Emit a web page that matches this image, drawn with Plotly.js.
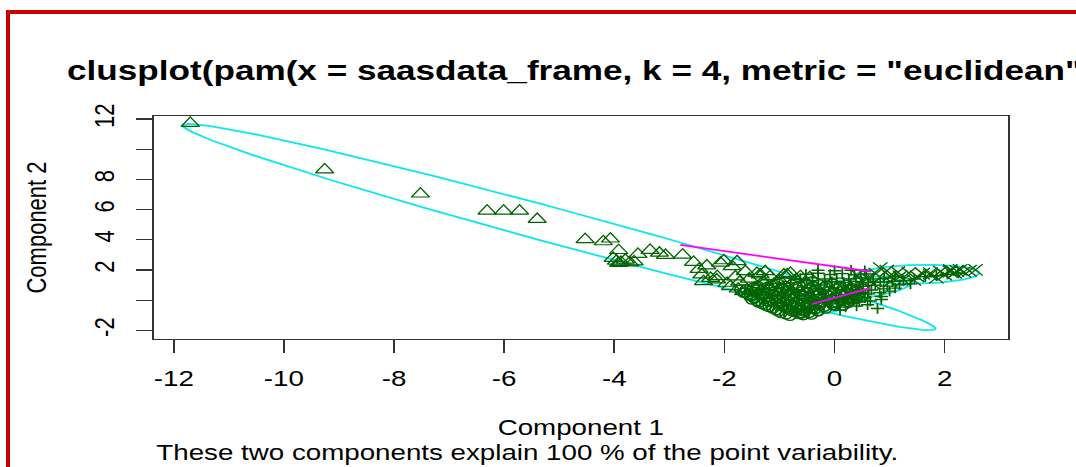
<!DOCTYPE html>
<html><head><meta charset="utf-8">
<script src="https://cdn.plot.ly/plotly-3.0.1.min.js"></script>
<style>
html,body{margin:0;padding:0;background:#fff;}
#wrap{position:relative;width:1076px;height:467px;overflow:hidden;background:#fff;}
#chart{position:absolute;left:0;top:0;width:854px;height:467px;transform:scaleX(1.26);transform-origin:0 0;}
#frame{position:absolute;left:6px;top:10px;width:1200px;height:600px;border-left:4px solid #c80000;border-top:4px solid #c80000;pointer-events:none;}
</style></head><body>
<div id="wrap"><div id="chart"></div><div id="frame"></div></div>
<script>
// ---- data ----
const titleText = 'clusplot(pam(x = saasdata_frame, k = 4, metric = "euclidean"))';
const subText = 'These two components explain 100 % of the point variability.';
const xTickVals = [-12, -10, -8, -6, -4, -2, 0, 2];
const xTickText = ['-12', '-10', '-8', '-6', '-4', '-2', '0', '2'];
const yTickVals = [-2, 0, 2, 4, 6, 8, 10, 12];
const yTickText = ['-2', '', '2', '4', '6', '8', '', '12'];

// cluster with triangles
const triPts = [[-11.70,11.72],[-9.26,8.64],[-7.52,7.04],[-6.31,5.91],[-6.01,5.91],[-5.72,5.91],[-5.40,5.36],
 [-4.53,4.02],[-4.20,3.88],[-4.07,4.06],[-3.92,3.30],[-4.02,2.78],[-3.96,2.60],[-3.88,2.52],[-3.80,2.66],
 [-3.72,2.48],[-3.64,2.55],[-3.92,2.45],[-3.57,3.05],[-3.35,3.31],[-3.18,3.12],[-3.07,2.98],[-2.76,3.00],
 [-2.56,2.52],[-2.32,2.28],[-2.46,2.05],[-2.01,2.62],[-1.86,2.23],[-2.41,1.68],[-2.13,1.57],[-2.38,1.24],
 [-2.14,1.35],[-2.25,1.45],[-1.62,1.90],[-1.35,1.68],[-1.17,1.57],[-0.92,1.68],[-0.80,1.79],[-1.89,0.91],
 [-1.65,0.58],[-1.47,0.25],[-1.95,1.13],[-1.72,1.20],[-1.55,1.40],[-1.30,1.20],[-1.10,1.05],[-1.80,1.55],
 [-2.07,2.47],[-1.77,2.56],[-1.41,1.79],[-1.26,1.90],[-0.86,1.68],[-0.62,1.57],[-1.75,0.75],[-1.40,0.90],
 [-1.20,0.75],[-1.00,1.30],[-0.70,1.35],[-0.45,1.50]];

// cluster with circles (dense blob)
const cirPts = [[-1.28,1.05],[-1.02,1.08],[-0.77,1.02],[-0.51,1.10],[-0.28,1.04],[-0.03,1.07],[0.22,1.01],
 [-1.47,0.83],[-1.21,0.88],[-0.96,0.82],[-0.69,0.87],[-0.44,0.81],[-0.18,0.86],[0.07,0.84],[0.31,0.80],
 [-1.52,0.60],[-1.31,0.66],[-1.08,0.59],[-0.84,0.64],[-0.58,0.61],[-0.33,0.67],[-0.09,0.60],[0.16,0.63],[0.41,0.58],
 [-1.57,0.38],[-1.36,0.43],[-1.13,0.37],[-0.89,0.42],[-0.63,0.39],[-0.38,0.44],[-0.14,0.37],[0.11,0.41],[0.34,0.36],
 [-1.46,0.16],[-1.24,0.21],[-0.99,0.15],[-0.74,0.19],[-0.49,0.22],[-0.24,0.16],[0.01,0.20],[0.24,0.14],
 [-1.41,-0.04],[-1.14,0.01],[-0.88,-0.03],[-0.63,0.02],[-0.39,-0.05],[-0.13,0.00],[0.12,-0.04],
 [-1.31,-0.24],[-1.04,-0.19],[-0.79,-0.25],[-0.54,-0.20],[-0.29,-0.23],[-0.04,-0.18],
 [-1.19,-0.44],[-0.94,-0.39],[-0.69,-0.45],[-0.44,-0.40],[-0.19,-0.43],
 [-1.06,-0.64],[-0.84,-0.59],[-0.61,-0.65],[-0.36,-0.60],
 [-0.97,-0.84],[-0.71,-0.79],[-0.46,-0.83],[-0.81,-1.02],[-0.57,-0.98],
 [-1.65,0.50],[-1.70,0.70],[-1.20,-0.10],[-0.60,-0.85],[-0.30,-0.70],[0.00,-0.35],[0.30,0.00],[0.50,0.25],
 [-0.90,1.20],[-0.40,1.25],
 [-1.40,0.95],[-1.15,0.97],[-0.90,0.93],[-0.64,0.96],[-0.39,0.94],[-0.15,0.97],[0.10,0.93],[0.35,0.95],
 [-1.60,0.72],[-1.40,0.75],[-1.18,0.71],[-0.93,0.74],[-0.70,0.72],[-0.45,0.76],[-0.21,0.70],[0.03,0.74],[0.28,0.71],[0.52,0.74],
 [-1.62,0.50],[-1.45,0.53],[-1.22,0.49],[-0.98,0.52],[-0.74,0.50],[-0.50,0.53],[-0.26,0.48],[-0.01,0.52],[0.23,0.49],[0.46,0.51],
 [-1.52,0.28],[-1.30,0.31],[-1.06,0.27],[-0.82,0.30],[-0.57,0.28],[-0.32,0.31],[-0.07,0.27],[0.18,0.30],[0.42,0.28],
 [-1.50,0.06],[-1.28,0.09],[-1.05,0.05],[-0.80,0.08],[-0.55,0.06],[-0.30,0.09],[-0.05,0.05],[0.19,0.08],[0.40,0.10],
 [-1.38,-0.14],[-1.18,-0.11],[-0.94,-0.15],[-0.70,-0.12],[-0.46,-0.14],[-0.21,-0.11],[0.04,-0.15],[0.25,-0.12],
 [-1.25,-0.34],[-1.01,-0.31],[-0.76,-0.35],[-0.51,-0.32],[-0.27,-0.34],[-0.03,-0.30],[0.15,-0.36],
 [-1.12,-0.54],[-0.89,-0.51],[-0.65,-0.55],[-0.40,-0.52],[-0.16,-0.54],
 [-1.02,-0.74],[-0.78,-0.71],[-0.54,-0.75],[-0.30,-0.72],
 [-0.88,-0.93],[-0.64,-0.90],[-0.42,-0.94]];

// cluster with plus signs
const plusPts = [[-0.52,1.72],[-0.30,1.78],[-0.08,1.70],[0.14,1.76],[0.36,1.69],[0.58,1.74],
 [-0.62,1.42],[-0.40,1.48],[-0.18,1.40],[0.04,1.46],[0.26,1.41],[0.48,1.47],[0.70,1.40],
 [-0.05,1.22],[0.17,1.18],[0.39,1.24],[0.61,1.17],[0.83,1.21],[1.05,1.25],
 [0.30,0.97],[0.52,0.92],[0.74,0.99],[0.96,0.93],[1.18,1.02],[1.38,1.08],
 [0.45,0.72],[0.67,0.68],[0.89,0.75],[1.10,0.80],[0.42,0.46],[0.62,0.42],[0.82,0.50],
 [0.15,0.05],[0.35,0.10],[0.55,0.18],[0.25,-0.20],[0.45,-0.12],[0.65,-0.05],[0.85,0.05],
 [0.20,-0.45],[0.40,-0.38],[0.60,-0.30],[0.78,-0.55],[0.10,-0.65],
 [1.25,1.30],[1.45,1.40],[1.65,1.55],[1.85,1.62],[2.05,1.72],[2.25,1.80],
 [-0.30,1.98],[0.00,1.95],[0.30,1.98],[0.55,1.95],[0.90,1.45],[1.10,1.55],[0.85,0.25],[1.00,0.60]];

// cluster with crosses
const crossPts = [[0.41,1.68],[0.83,2.12],[0.60,1.45],[0.75,1.75],[1.01,1.24],[1.00,1.60],[1.19,1.57],
 [1.25,1.35],[1.35,1.80],[1.44,1.35],[1.50,1.57],[1.60,1.75],[1.74,1.68],[1.74,1.79],[1.85,1.50],
 [1.92,1.90],[2.00,1.70],[2.10,1.90],[2.10,2.01],[2.18,1.82],[2.22,1.94],[2.28,2.01],[2.35,1.88],
 [2.45,1.95],[2.56,2.01],[0.95,1.95],[1.15,1.85],[0.50,1.30],[0.70,1.10]];

// cluster ellipses: centre, semi-axes, angle (data units)
const ellCx = [-5.00, 1.51, -0.75, 0.45];
const ellCy = [4.84, 1.72, -0.10, 0.80];
const ellA = [9.62, 1.12, 1.00, 1.10];
const ellB = [0.86, 0.62, 0.50, 0.60];
const ellAng = [-45.0, 6.4, -40.0, 35.0];

// distance segments between ellipses
const segX0 = [-2.80, -0.41];
const segY0 = [3.66, -0.25];
const segX1 = [0.66, 0.65];
const segY1 = [1.90, 0.80];

// ---- build traces ----
const green = '#006400';
const cyan = '#10e6ee';
const traces = [];
for (let k = 0; k < ellCx.length; k++) {
  const th = ellAng[k] * Math.PI / 180;
  const xs = [], ys = [];
  for (let i = 0; i <= 180; i++) {
    const t = i / 180 * 2 * Math.PI;
    const u = ellA[k] * Math.cos(t), v = ellB[k] * Math.sin(t);
    xs.push(ellCx[k] + u * Math.cos(th) - v * Math.sin(th));
    ys.push(ellCy[k] + u * Math.sin(th) + v * Math.cos(th));
  }
  traces.push({x: xs, y: ys, type: 'scatter', mode: 'lines', line: {color: cyan, width: 1.8}, hoverinfo: 'skip'});
}
function pts(arr, symbol, size, lw) {
  return {x: arr.map(p => p[0]), y: arr.map(p => p[1]), type: 'scatter', mode: 'markers',
    marker: {symbol: symbol, size: size, color: green, line: {color: green, width: lw}}};
}
traces.push(pts(cirPts, 'circle-open', 9.5, 1.4));
traces.push(pts(triPts, 'triangle-up-open', 12.5, 1.2));
traces.push(pts(plusPts, 'cross-thin-open', 7.5, 1.4));
traces.push(pts(crossPts, 'x-thin-open', 11.5, 1.2));
for (let k = 0; k < segX0.length; k++) {
  traces.push({x: [segX0[k], segX1[k]], y: [segY0[k], segY1[k]], type: 'scatter', mode: 'lines',
    line: {color: '#ff00ff', width: 1.8}, hoverinfo: 'skip'});
}

const W = 854, H = 467;
const fam = 'Liberation Sans, Arial, sans-serif';
const layout = {
  width: W, height: H, showlegend: false,
  margin: {l: 121.7, r: 54.2, t: 116, b: 127.7, pad: 0},
  paper_bgcolor: '#fff', plot_bgcolor: '#fff',
  font: {family: fam, size: 22, color: '#000'},
  title: {text: titleText, font: {family: fam, size: 27.9, weight: 'bold', color: '#000'},
    xref: 'container', x: 53.2 / W, xanchor: 'left', yref: 'container', y: 1 - 70 / H, yanchor: 'middle'},
  xaxis: {range: [-12.364, 3.15], tickvals: xTickVals, ticktext: xTickText, ticks: 'outside', ticklen: 13,
    tickwidth: 1.3, tickcolor: '#333', showline: true, mirror: true, linecolor: '#333', linewidth: 1.4,
    showgrid: false, zeroline: false, automargin: false, ticklabelstandoff: 6,
    tickfont: {family: fam, size: 22, color: '#000'},
    title: {text: 'Component 1', font: {family: fam, size: 22, color: '#000'}, standoff: 30}},
  yaxis: {range: [-2.569, 12.198], tickvals: yTickVals, ticktext: yTickText, ticks: 'outside', ticklen: 13,
    tickwidth: 1.3, tickcolor: '#333', showline: true, mirror: true, linecolor: '#333', linewidth: 1.4,
    showgrid: false, zeroline: false, automargin: false, tickangle: -90, ticklabelstandoff: 8,
    tickfont: {family: fam, size: 22, color: '#000'},
    title: {text: 'Component 2', font: {family: fam, size: 22, color: '#000'}, standoff: 27}},
  annotations: [{text: subText, xref: 'paper', yref: 'paper', x: 0, y: -0.509, xanchor: 'left', yanchor: 'middle',
    showarrow: false, font: {family: fam, size: 22, color: '#000'}}]
};
Plotly.newPlot('chart', traces, layout, {displayModeBar: false, staticPlot: true});
</script>
</body></html>
